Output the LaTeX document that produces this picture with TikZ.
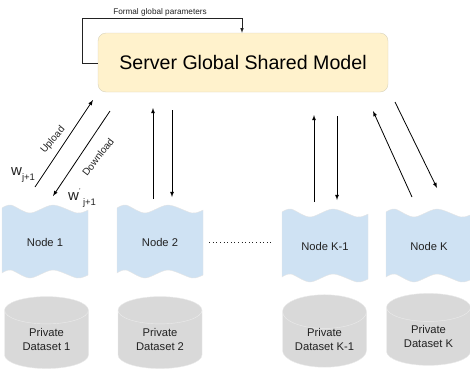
\documentclass[tikz,border=0pt]{standalone}
\usepackage{fontspec}
\setmainfont{Liberation Sans}
\usetikzlibrary{shapes.geometric}
\definecolor{serverfill}{HTML}{FFF2CC}
\definecolor{serverline}{HTML}{D8D2BC}
\definecolor{wavefill}{HTML}{CFE2F3}
\definecolor{dbfill}{HTML}{D9D9D9}
\definecolor{inkgray}{HTML}{222222}
\tikzset{
  server/.style={draw=serverline,fill=serverfill,rounded corners=8pt,minimum width=290pt,minimum height=59pt,inner sep=0,font=\fontsize{19.6}{22}\selectfont},
  wavetext/.style={minimum width=86pt,minimum height=70pt,inner sep=0,text=inkgray,font=\fontsize{11.2}{13}\selectfont},
  dataset/.style={shape=cylinder,shape border rotate=90,aspect=0.57,draw=white!92!black,fill=dbfill,minimum width=84pt,minimum height=72pt,inner sep=0,align=center,text=inkgray,font=\fontsize{11.2}{13.5}\selectfont},
  flow/.style={-latex,black,line width=0.8pt},
  smalltext/.style={text=inkgray,inner sep=0,font=\fontsize{10}{12}\selectfont}
}
% wave shaped box: name, left x, top y, text
\newcommand{\wavenode}[4]{
  \begin{scope}[shift={(#2,#3)}]
    \filldraw[draw=white!90!black,fill=wavefill]
      plot[smooth] coordinates {(0,3) (9,0) (28,8) (51,0) (75,8) (86,5)}
      -- plot[smooth] coordinates {(86,70) (75,73) (51,65) (28,73) (9,65) (0,68)} -- cycle;
    \node[wavetext] (#1) at (43,37) {#4};
  \end{scope}
}
\newcommand{\wlabel}[1]{w#1\raisebox{-5pt}{\fontsize{9.5}{10}\selectfont j+1}}
\begin{document}
\begin{tikzpicture}[x=1pt,y=-1pt]
    \useasboundingbox (0,0) rectangle (470,370);
    \node[server] (server) at (243,62.5) {Server Global Shared Model};

    % feedback loop
    \coordinate (loopa) at (82,63);
    \coordinate (loopb) at (82,18);
    \coordinate (loopc) at (242,18);
    \draw[-latex,inkgray,line width=0.6pt] (server.west |- loopa) -- (loopa) -- (loopb) -- (loopc) -- (loopc |- server.north);
    \node[smalltext,font=\fontsize{8.2}{10}\selectfont] (formal) at (160,12) {Formal global parameters};

    % nodes
    \wavenode{node1}{2}{205}{Node 1}
    \wavenode{node2}{117}{205}{Node 2}
    \wavenode{nodek1}{282}{209}{Node K-1}
    \wavenode{nodek}{386}{209}{Node K}
    \draw[inkgray,line width=0.8pt,dash pattern=on 1pt off 2.6pt,shorten <=6pt,shorten >=9pt] (node2.east) -- (node2.east -| nodek1.west);

    % datasets
    \node[dataset] (data1) at (46.5,339.5) {Private\\Dataset 1};
    \node[dataset] (data2) at (160,339.5) {Private\\Dataset 2};
    \node[dataset] (datak1) at (324.5,339.5) {Private\\Dataset K-1};
    \node[dataset] (datak) at (428.5,336.5) {Private\\Dataset K};

    % arrow ends
    \coordinate (up1a) at (35,187);    \coordinate (up1b) at (93,100);
    \coordinate (down1a) at (110,111); \coordinate (down1b) at (53,196);
    \coordinate (up2a) at (153,199);   \coordinate (up2b) at (153,108);
    \coordinate (down2a) at (172,110); \coordinate (down2b) at (172,197);
    \coordinate (upk1a) at (314,202);  \coordinate (upk1b) at (314,115);
    \coordinate (downk1a) at (337,116);\coordinate (downk1b) at (337,200);
    \coordinate (upka) at (412,197);   \coordinate (upkb) at (373,111);
    \coordinate (downka) at (395,102); \coordinate (downkb) at (437,188);

    \draw[flow] (up1a) -- (up1b);
    \draw[flow] (down1a) -- (down1b);
    \draw[flow] (up2a) -- (up2b);
    \draw[flow] (down2a) -- (down2b);
    \draw[flow] (upk1a) -- (upk1b);
    \draw[flow] (downk1a) -- (downk1b);
    \draw[flow] (upka) -- (upkb);
    \draw[flow] (downka) -- (downkb);

    \node[smalltext,rotate=50] (upload) at (53,140) {Upload};
    \node[smalltext,rotate=52] (download) at (98,157) {Download};
    \node[smalltext,font=\fontsize{15}{16}\selectfont,anchor=west] (wup) at (11,175) {\wlabel{}};
    \node[smalltext,font=\fontsize{15}{16}\selectfont,anchor=west] (wdown) at (68,198) {\wlabel{\raisebox{7pt}{\fontsize{7}{7}\selectfont '}\,}};
\end{tikzpicture}
\end{document}
